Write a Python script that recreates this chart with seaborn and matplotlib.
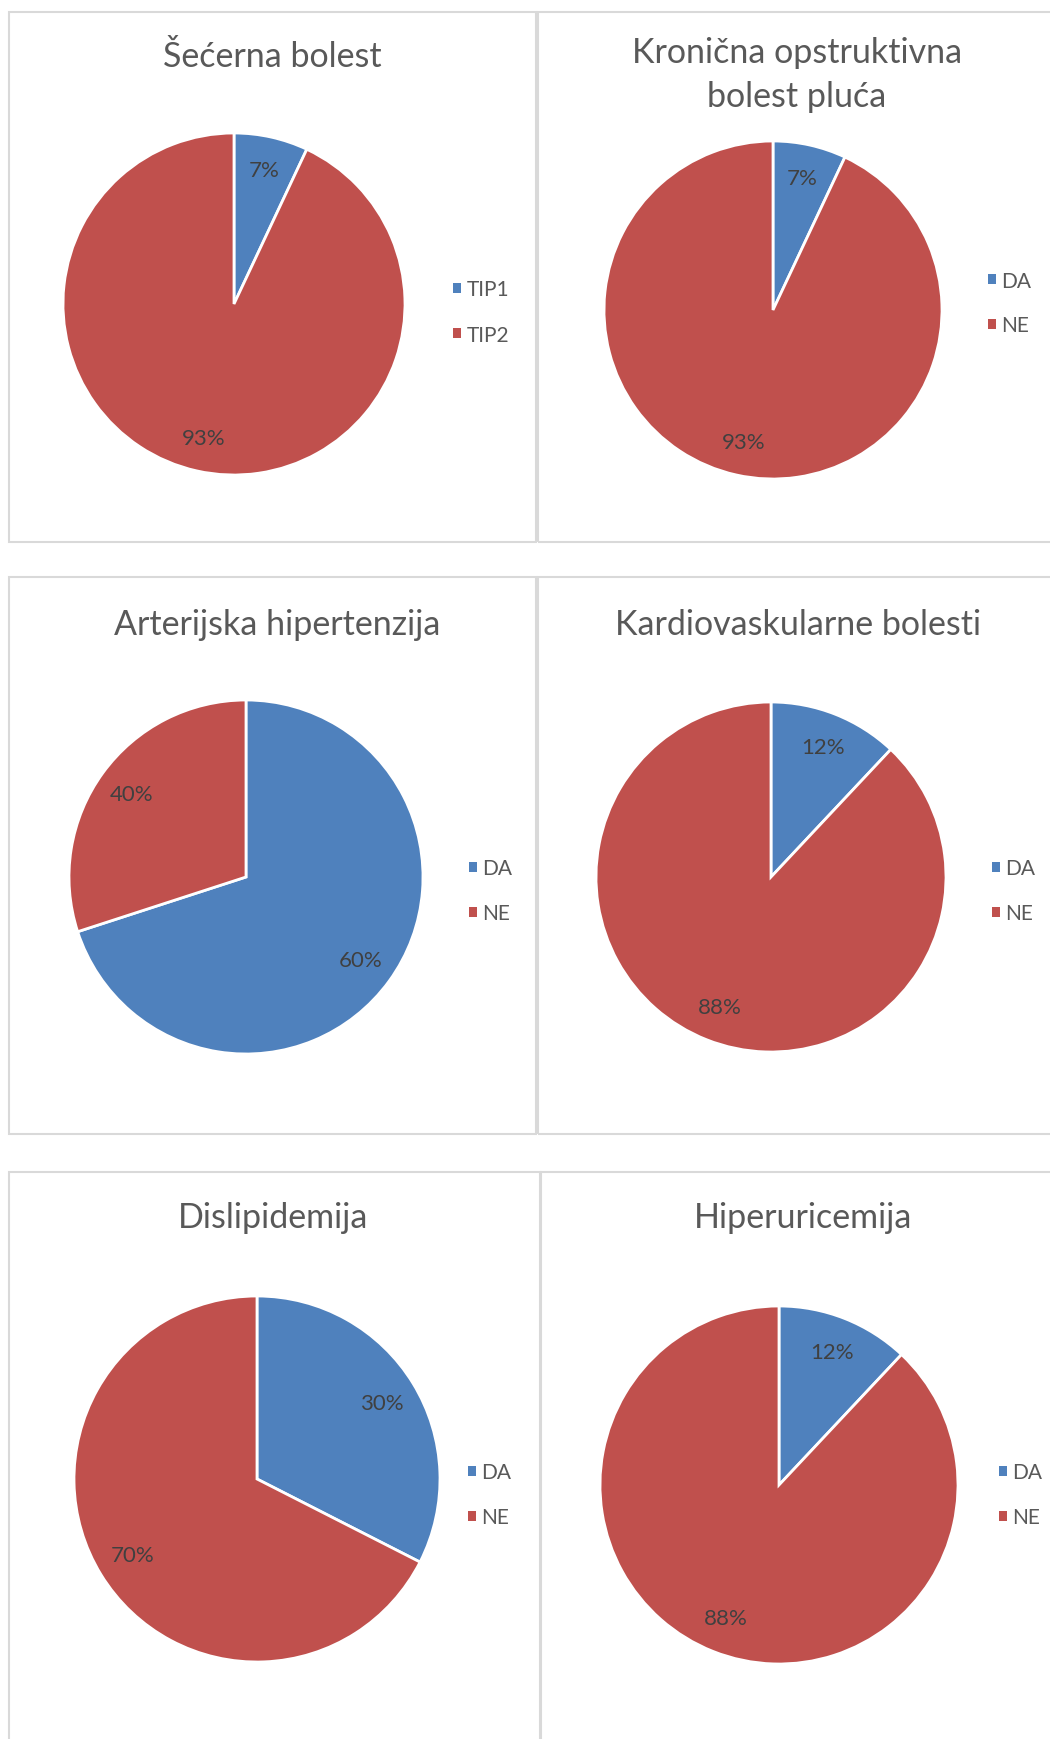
import matplotlib
matplotlib.use("Agg")
import matplotlib.pyplot as plt
import seaborn as sns
from matplotlib.patches import Rectangle

# data
titles = ["Šećerna bolest", "Kronična opstruktivna\nbolest pluća",
          "Arterijska hipertenzija", "Kardiovaskularne bolesti",
          "Dislipidemija", "Hiperuricemija"]
cat_tip = ["TIP1", "TIP2"]
cat_dane = ["DA", "NE"]

# wedge sizes as drawn (%)
secerna = [7, 93]
kopb = [7, 93]
hipertenzija = [70, 30]
kardio = [12, 88]
dislipidemija = [32.5, 67.5]
hiperuricemija = [12, 88]

# data labels as printed on the chart
secerna_lbl = ["7%", "93%"]
kopb_lbl = ["7%", "93%"]
hipertenzija_lbl = ["60%", "40%"]
kardio_lbl = ["12%", "88%"]
dislipidemija_lbl = ["30%", "70%"]
hiperuricemija_lbl = ["12%", "88%"]

sns.set_theme(style="white")
plt.rcParams['font.family'] = ['Lato', 'DejaVu Sans']

colors = ["#4F81BD", "#C0504D"]
W, H = 1050, 1740
fig = plt.figure(figsize=(W / 100, H / 100), dpi=100)
fig.patch.set_facecolor("white")

charts = [
    (secerna, secerna_lbl, cat_tip),
    (kopb, kopb_lbl, cat_dane),
    (hipertenzija, hipertenzija_lbl, cat_dane),
    (kardio, kardio_lbl, cat_dane),
    (dislipidemija, dislipidemija_lbl, cat_dane),
    (hiperuricemija, hiperuricemija_lbl, cat_dane),
]

# layout in pixels (top-left origin)
panels = [(9, 13, 536, 543), (538, 13, 1060, 543),
          (9, 578, 536, 1135), (538, 578, 1060, 1135),
          (9, 1173, 540, 1750), (541, 1173, 1070, 1750)]
pies = [(234, 305, 171), (773, 311, 169),
        (246, 878, 177), (771, 878, 175),
        (257, 1480, 183), (779, 1486, 179)]
title_pos = [(272, 57), (797, 75), (277, 625), (798, 625), (273, 1218), (803, 1218)]
legend_pos = [(453, 313), (988, 304), (469, 892), (992, 892), (468, 1496), (999, 1496)]


def fx(x):
    return x / W


def fy(y):
    return 1 - y / H


for (vals, lbls, cats), pan, (cx, cy, r), tp, lp, title in zip(
        charts, panels, pies, title_pos, legend_pos, titles):
    x0, y0, x1, y1 = pan
    fig.patches.append(Rectangle((fx(x0), fy(y1)), fx(x1 - x0), (y1 - y0) / H,
                                 transform=fig.transFigure, fill=False,
                                 edgecolor="#D9D9D9", lw=1.5))
    pad = 1.03
    ax = fig.add_axes([fx(cx - r * pad), fy(cy + r * pad), 2 * r * pad / W, 2 * r * pad / H])
    wedges, texts = ax.pie(vals, labels=lbls, colors=colors, startangle=90,
                           counterclock=False, labeldistance=0.8,
                           wedgeprops=dict(edgecolor="white", linewidth=2),
                           textprops=dict(fontsize=16, color="#404040"))
    for t in texts:
        t.set_ha("center")
        t.set_va("center")
    ax.set_xlim(-pad, pad)
    ax.set_ylim(-pad, pad)
    ax.set_aspect("equal")

    fig.text(fx(tp[0]), fy(tp[1]), title, ha="center", va="center",
             fontsize=24.5, color="#595959", linespacing=1.47)

    handles = [Rectangle((0, 0), 1, 1, facecolor=c, edgecolor="none") for c in colors]
    fig.legend(handles, cats, loc="center left",
               bbox_to_anchor=(fx(lp[0]), fy(lp[1])), bbox_transform=fig.transFigure,
               frameon=False, fontsize=15, labelcolor="#595959",
               handlelength=0.4, handleheight=0.4, handletextpad=0.25,
               labelspacing=1.2, borderaxespad=0, borderpad=0)

fig.savefig("out.png", dpi=100, facecolor="white")
